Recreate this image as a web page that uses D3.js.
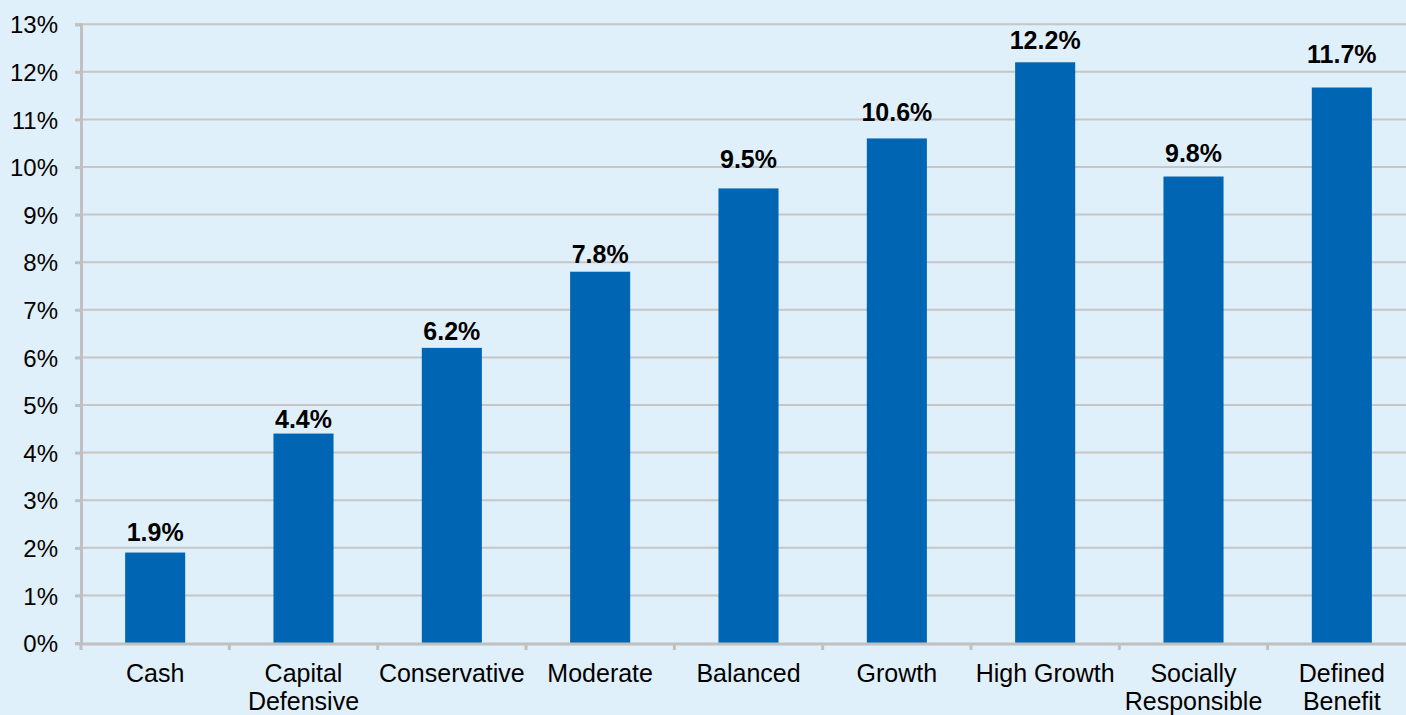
<!DOCTYPE html>
<html><head><meta charset="utf-8">
<script src="https://cdn.jsdelivr.net/npm/d3@7"></script>
<style>html,body{margin:0;padding:0;background:#E0F0FA;overflow:hidden}</style>
</head><body>
<svg id="chart" width="1406" height="715"></svg>
<script>
const categories = [["Cash"],["Capital","Defensive"],["Conservative"],["Moderate"],["Balanced"],["Growth"],["High Growth"],["Socially","Responsible"],["Defined","Benefit"]];
const values = [1.9, 4.4, 6.2, 7.8, 9.55, 10.6, 12.2, 9.8, 11.67];
const valueLabels = ["1.9%","4.4%","6.2%","7.8%","9.5%","10.6%","12.2%","9.8%","11.7%"];
// gap (px) between each value label's baseline and its bar top, as placed in the original
const labelGap = [12, 6, 8, 9, 20, 17, 13, 15, 25];
const yTicks = [0,1,2,3,4,5,6,7,8,9,10,11,12,13];

const svg = d3.select("#chart");
svg.append("rect").attr("width",1406).attr("height",715).attr("fill","#E0F0FA");
const pLeft = 81, pRight = 1416, pTop = 24.2, pBottom = 643;
const keys = categories.map((c,i)=>i);
const x = d3.scaleBand().domain(keys).range([pLeft,pRight]).paddingInner(0.595).paddingOuter(0.2975);
const y = d3.scaleLinear().domain([0,13]).range([pBottom,pTop]);
const step = x.step();
const FONT = "Liberation Sans, Arial, sans-serif";

// gridlines
svg.append("g").selectAll("line").data(yTicks.filter(d=>d>0)).join("line")
  .attr("x1",pLeft).attr("x2",pRight).attr("y1",d=>y(d)).attr("y2",d=>y(d))
  .attr("stroke","#C6C6C6").attr("stroke-width",2);

// bars
svg.append("g").selectAll("rect").data(values).join("rect")
  .attr("x",(d,i)=>x(i)).attr("width",x.bandwidth())
  .attr("y",d=>y(d)).attr("height",d=>pBottom-y(d)).attr("fill","#0066B3");

// y axis
const yAxis = d3.axisLeft(y).tickValues(yTicks).tickFormat(d=>d+"%").tickSize(6).tickPadding(17);
const gy = svg.append("g").attr("transform",`translate(${pLeft},0)`).call(yAxis);
gy.select(".domain").attr("stroke","#C0C0C0").attr("stroke-width",3);
gy.selectAll(".tick line").attr("stroke","#C0C0C0").attr("stroke-width",3);
gy.selectAll(".tick text").attr("font-family",FONT).attr("font-size",24).attr("fill","#000").attr("dy","0.36em");

// x axis line & ticks
svg.append("line").attr("x1",pLeft-6).attr("x2",pRight).attr("y1",pBottom+1).attr("y2",pBottom+1).attr("stroke","#C0C0C0").attr("stroke-width",3);
svg.append("g").selectAll("line").data(d3.range(categories.length+1)).join("line")
  .attr("x1",d=>pLeft+d*step).attr("x2",d=>pLeft+d*step).attr("y1",pBottom).attr("y2",pBottom+7)
  .attr("stroke","#C0C0C0").attr("stroke-width",3);

// category labels
const cl = svg.append("g").selectAll("text").data(categories).join("text")
  .attr("x",(d,i)=>x(i)+x.bandwidth()/2).attr("y",682)
  .attr("text-anchor","middle").attr("font-family",FONT).attr("font-size",25).attr("fill","#000");
cl.each(function(d){
  const t=d3.select(this);
  d.forEach((line,j)=>t.append("tspan").attr("x",t.attr("x")).attr("dy",j?28:0).text(line));
});

// value labels
svg.append("g").selectAll("text").data(values).join("text")
  .attr("x",(d,i)=>x(i)+x.bandwidth()/2).attr("y",(d,i)=>y(d)-labelGap[i])
  .attr("text-anchor","middle").attr("font-family",FONT).attr("font-weight","bold").attr("font-size",25).attr("fill","#000")
  .text((d,i)=>valueLabels[i]);
</script>
</body></html>
